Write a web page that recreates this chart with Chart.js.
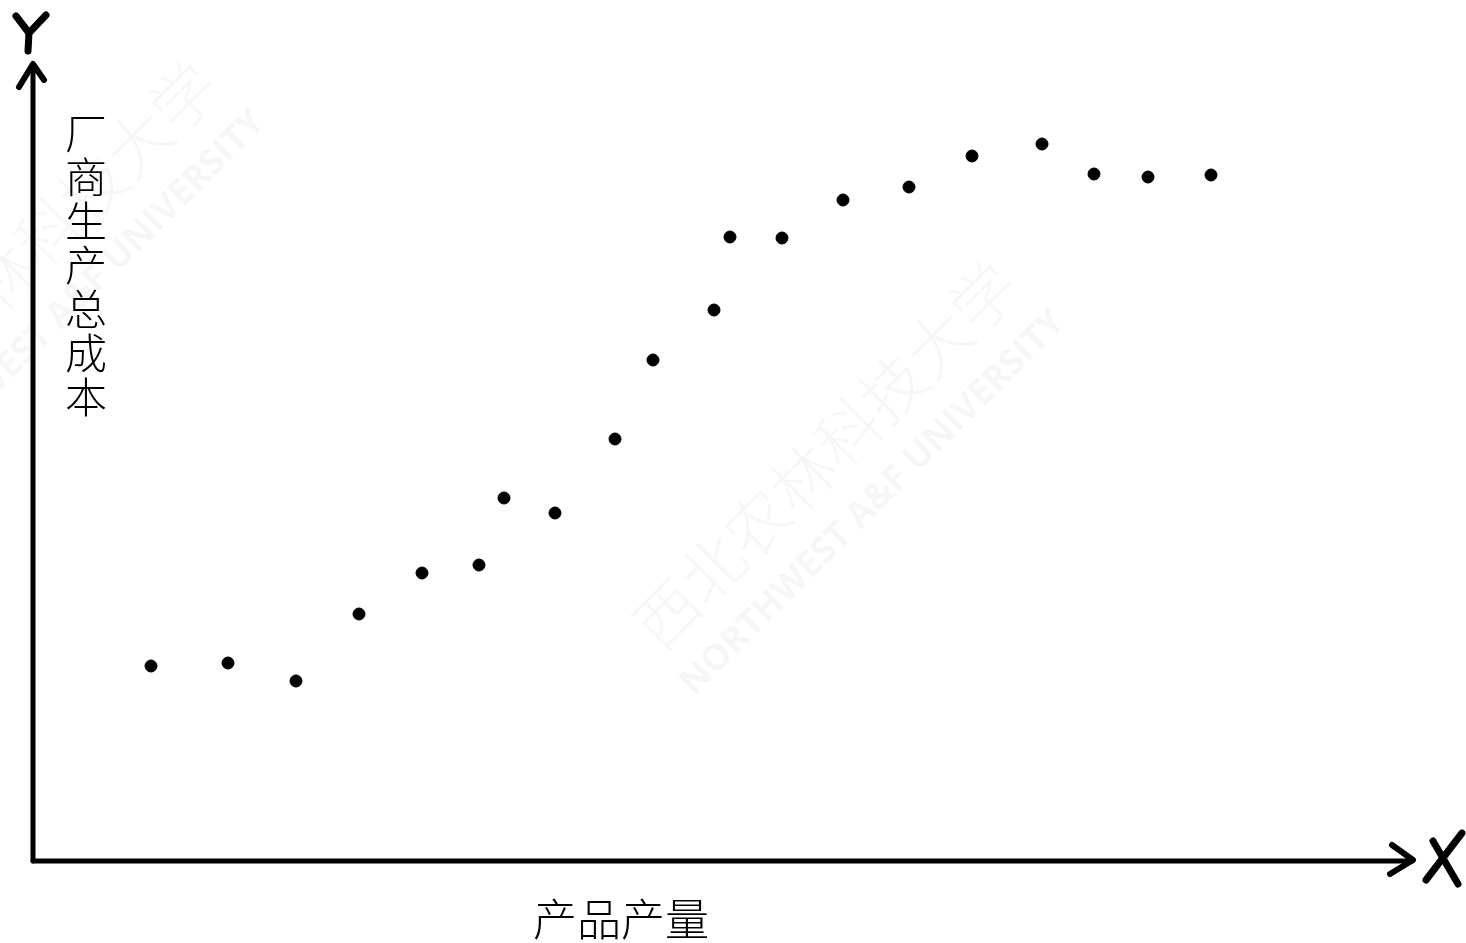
<!DOCTYPE html>
<html>
<head>
<meta charset="utf-8">
<script src="https://cdn.jsdelivr.net/npm/chart.js@4.4.1/dist/chart.umd.min.js"></script>
<style>
  html, body { margin: 0; padding: 0; background: #fff; }
  #wrap { width: 1466px; height: 943px; position: relative; }
</style>
</head>
<body>
<div id="wrap"><canvas id="costChart"></canvas></div>
<script>
// 产量 (x) and 总成本 (y); origin = where the two axes meet
const outputQty = [118, 195, 263, 326, 389, 446, 471, 522, 582, 620, 681, 697, 749, 810, 876, 939, 1009, 1061, 1115, 1178];
const totalCost = [195, 198, 180, 247, 288, 296, 363, 348, 422, 501, 551, 624, 623, 661, 674, 705, 717, 687, 684, 686];
const xLabel = "产品产量";
const yLabel = "厂商生产总成本";
const wmCn = "西北农林科技大学";
const wmEn = "NORTHWEST A&F UNIVERSITY";

const points = outputQty.map((x, i) => ({ x: x, y: totalCost[i] }));

function strokePath(ctx, pts) {
  ctx.beginPath();
  ctx.moveTo(pts[0][0], pts[0][1]);
  for (let i = 1; i < pts.length; i++) ctx.lineTo(pts[i][0], pts[i][1]);
  ctx.stroke();
}

function drawWatermark(ctx, cx, cy) {
  ctx.save();
  ctx.translate(cx, cy);
  ctx.rotate(-Math.PI / 4);
  ctx.fillStyle = "rgba(0,0,0,0.035)";
  ctx.textAlign = "center";
  ctx.textBaseline = "middle";
  ctx.font = "300 64px 'Noto Sans CJK SC'";
  ctx.fillText(wmCn, 0, 0);
  ctx.font = "bold 36px 'Open Sans'";
  ctx.fillText(wmEn, 0, 68);
  ctx.restore();
}

const sketchPlugin = {
  id: "sketch",
  beforeDatasetsDraw(chart) {
    const ctx = chart.ctx;
    const xs = chart.scales.x, ys = chart.scales.y;
    const ox = xs.getPixelForValue(0), oy = ys.getPixelForValue(0);

    drawWatermark(ctx, 825, 455);
    drawWatermark(ctx, 25, 255);

    ctx.save();
    ctx.strokeStyle = "#000";
    ctx.lineCap = "round";
    ctx.lineJoin = "round";
    ctx.lineWidth = 5;
    // axes
    strokePath(ctx, [[ox, oy], [ox, 65]]);
    strokePath(ctx, [[ox, oy], [1412, oy]]);
    ctx.lineWidth = 6;
    // arrow heads
    strokePath(ctx, [[19, 87], [33, 64], [44, 80]]);
    strokePath(ctx, [[1392, 845], [1413, 860], [1390, 874]]);
    // hand-drawn axis letters
    ctx.lineWidth = 7;
    strokePath(ctx, [[16, 16], [29, 33]]);
    strokePath(ctx, [[46, 15], [29, 33], [28, 51]]);
    strokePath(ctx, [[1433, 841], [1458, 884]]);
    strokePath(ctx, [[1462, 833], [1426, 880]]);
    ctx.restore();

    // axis titles
    ctx.save();
    ctx.fillStyle = "#000";
    ctx.textAlign = "center";
    ctx.textBaseline = "middle";
    ctx.font = "300 42px 'Noto Sans CJK SC'";
    const chars = Array.from(yLabel);
    chars.forEach((c, i) => ctx.fillText(c, 86, 133 + i * 44));
    ctx.font = "300 44px 'Noto Sans CJK SC'";
    ctx.fillText(xLabel, 621, 919);
    ctx.restore();
  }
};

new Chart(document.getElementById("costChart"), {
  type: "scatter",
  data: {
    datasets: [{
      label: "总成本",
      data: points,
      backgroundColor: "#000",
      borderColor: "#000",
      pointRadius: 6,
      pointHoverRadius: 6
    }]
  },
  options: {
    responsive: true,
    maintainAspectRatio: false,
    animation: false,
    layout: { padding: 0, autoPadding: false },
    plugins: { legend: { display: false }, tooltip: { enabled: false } },
    scales: {
      x: { type: "linear", min: -33, max: 1433, display: false },
      y: { type: "linear", min: -82, max: 861, display: false }
    }
  },
  plugins: [sketchPlugin]
});
</script>
</body>
</html>
